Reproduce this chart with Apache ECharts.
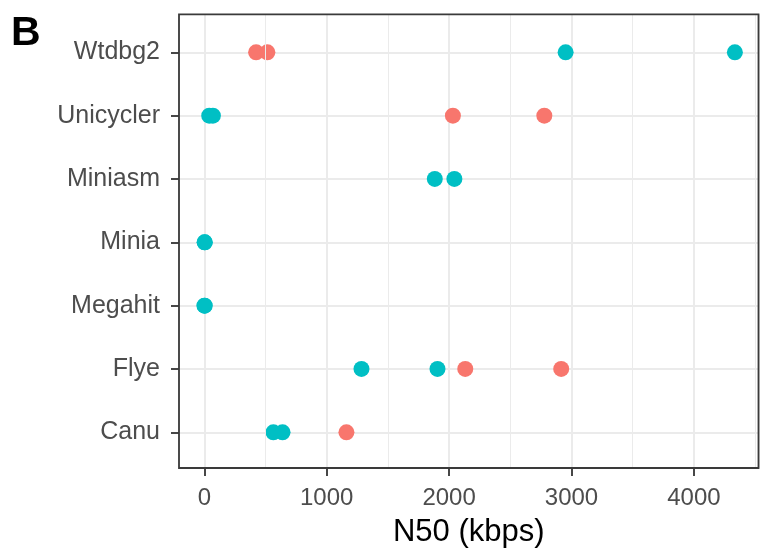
<!DOCTYPE html>
<html><head><meta charset="utf-8">
<script src="https://cdn.jsdelivr.net/npm/echarts@6/dist/echarts.min.js"></script>
<style>html,body{margin:0;padding:0;background:#fff}#c{width:760px;height:553px}</style>
</head><body><div id="c"></div>
<script>
// Categories listed bottom-to-top (ECharts puts the first category at the bottom)
const categories = ['Canu', 'Flye', 'Megahit', 'Minia', 'Miniasm', 'Unicycler', 'Wtdbg2'];
// N50 values (kbps), per assembler
const salmonValues = {
  Wtdbg2: [423, 515],
  Unicycler: [2031, 2778],
  Flye: [2132, 2916],
  Canu: [1161]
};
const tealValues = {
  Wtdbg2: [2952, 4335],
  Unicycler: [40, 70],
  Miniasm: [1883, 2043],
  Minia: [2, 4],
  Megahit: [1, 3],
  Flye: [1284, 1905],
  Canu: [564, 639]
};
const xTickLabels = [0, 1000, 2000, 3000, 4000];
const minorBreaks = [500, 1500, 2500, 3500, 4500];
const xLimits = [-207, 4528];
const xTitle = 'N50 (kbps)';
const panelLabel = 'B';

function toPoints(obj) {
  const out = [];
  categories.forEach(c => (obj[c] || []).forEach(v => out.push([v, c])));
  return out;
}
const xMin = xLimits[0], xMax = xLimits[1];

const FONT = 'Liberation Sans, Arial, Helvetica, sans-serif';
const chart = echarts.init(document.getElementById('c'), null, {renderer: 'canvas'});
chart.setOption({
  animation: false,
  backgroundColor: '#ffffff',
  graphic: [{
    type: 'text', left: 11, top: 13, z: 100,
    style: {text: panelLabel, font: 'bold 41px ' + FONT, fill: '#000'}
  }],
  grid: [
    {left: 179, right: 1.5, top: 14.3, bottom: 83, show: true, borderColor: '#3a3a3a', borderWidth: 1.8, backgroundColor: 'transparent', z: 10},
    {left: 179, right: 1.5, top: 52.3, bottom: 120.7, show: false}
  ],
  xAxis: [{
    gridIndex: 0, type: 'value', min: xMin, max: xMax,
    axisLine: {show: false, onZero: false},
    axisTick: {show: true, length: 8, lineStyle: {color: '#333333', width: 1.8}},
    axisLabel: {
      showMinLabel: false, showMaxLabel: false, margin: 18,
      fontSize: 24, fontFamily: FONT, color: '#4D4D4D',
      formatter: v => (xTickLabels.indexOf(Math.round(v)) >= 0 && Math.abs(v - Math.round(v)) < 1e-6) ? String(Math.round(v)) : ''
    },
    splitLine: {show: true, lineStyle: {color: '#EBEBEB', width: 2}},
    name: xTitle, nameLocation: 'middle', nameGap: 49,
    nameTextStyle: {fontSize: 31, fontFamily: FONT, color: '#000'}
  }, {
    gridIndex: 1, type: 'value', min: xMin, max: xMax, show: false,
    axisLine: {onZero: false},
    splitLine: {show: false}
  }],
  yAxis: [{
    gridIndex: 0, type: 'value', min: 0, max: 1, show: false, splitLine: {show: false},
    axisLine: {onZero: false}
  }, {
    gridIndex: 1, type: 'category', data: categories, boundaryGap: false,
    axisLine: {show: false, onZero: false},
    axisTick: {show: true, length: 8, lineStyle: {color: '#333333', width: 1.8}},
    axisLabel: {margin: 19, fontSize: 25, fontFamily: FONT, color: '#4D4D4D'},
    splitLine: {show: true, lineStyle: {color: '#EBEBEB', width: 2}}
  }],
  series: [{
    type: 'scatter', xAxisIndex: 0, yAxisIndex: 0, data: [], silent: true,
    markLine: {
      silent: true, symbol: 'none', label: {show: false},
      lineStyle: {color: '#EBEBEB', width: 1, type: 'solid'},
      data: minorBreaks.filter(v => v < xMax).map(v => ({xAxis: v}))
    }
  }, {
    name: 'salmon', type: 'scatter', xAxisIndex: 1, yAxisIndex: 1,
    symbolSize: 16, itemStyle: {color: '#F8766D', opacity: 1},
    data: toPoints(salmonValues), z: 3
  }, {
    name: 'teal', type: 'scatter', xAxisIndex: 1, yAxisIndex: 1,
    symbolSize: 16, itemStyle: {color: '#00BFC4', opacity: 1},
    data: toPoints(tealValues), z: 4
  }]
});
</script></body></html>
